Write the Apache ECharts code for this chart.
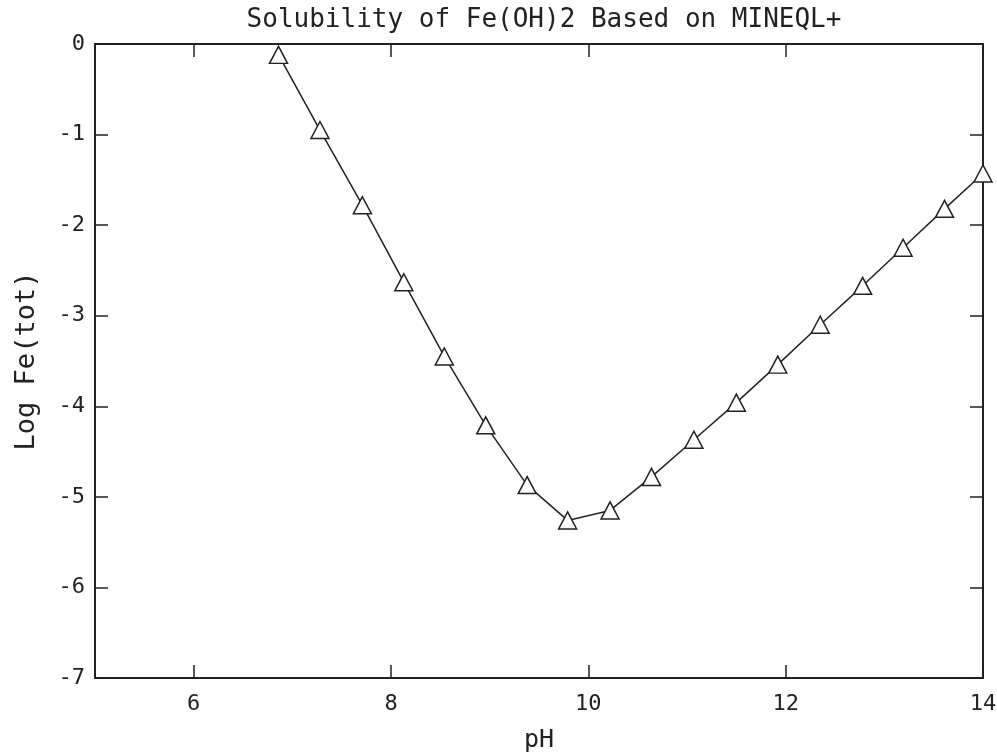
<!DOCTYPE html>
<html>
<head>
<meta charset="utf-8">
<script src="https://cdn.jsdelivr.net/npm/echarts@6/dist/echarts.min.js"></script>
<style>html,body{margin:0;padding:0;background:#fff}#c{width:997px;height:752px}</style>
</head>
<body>
<div id="c"></div>
<script>
const titleText = 'Solubility of Fe(OH)2 Based on MINEQL+';
const xName = 'pH';
const yName = 'Log Fe(tot)';
const xTickValues = [6, 8, 10, 12, 14];
const yTickValues = [-7, -6, -5, -4, -3, -2, -1, 0];
const pH = [6.86, 7.28, 7.71, 8.13, 8.54, 8.96, 9.38, 9.79, 10.22, 10.64, 11.07, 11.50, 11.92, 12.35, 12.78, 13.19, 13.61, 14.0];
const logFe = [-0.12, -0.95, -1.78, -2.63, -3.45, -4.21, -4.87, -5.26, -5.15, -4.78, -4.37, -3.96, -3.54, -3.10, -2.67, -2.25, -1.82, -1.43];

const FONT = 'DejaVu Sans Mono';
const chart = echarts.init(document.getElementById('c'));
const axisLine = {show: true, onZero: false, lineStyle: {color: '#222', width: 2}};
const xTick = {show: true, inside: true, length: 13, customValues: xTickValues, lineStyle: {color: '#222', width: 1.5}};
const yTick = {show: true, inside: true, length: 13, customValues: yTickValues, lineStyle: {color: '#222', width: 1.5}};
chart.setOption({
  backgroundColor: '#fff',
  animation: false,
  title: {
    text: titleText, left: 539, top: 2, textAlign: 'center',
    textStyle: {fontFamily: FONT, fontSize: 26, fontWeight: 'normal', color: '#222'}
  },
  grid: {left: 95, right: 14, top: 44, bottom: 74, containLabel: false, outerBoundsMode: 'none'},
  xAxis: [{
    type: 'value', min: 5, max: 14, position: 'bottom',
    name: xName, nameLocation: 'middle', nameGap: 50,
    nameTextStyle: {fontFamily: FONT, fontSize: 25, color: '#222'},
    axisLine: axisLine, axisTick: xTick, splitLine: {show: false},
    axisLabel: {fontFamily: FONT, fontSize: 22, color: '#222', margin: 15, customValues: xTickValues}
  }, {
    type: 'value', min: 5, max: 14, position: 'top',
    axisLine: axisLine, axisTick: xTick, splitLine: {show: false},
    axisLabel: {show: false}
  }],
  yAxis: [{
    type: 'value', min: -7, max: 0, position: 'left',
    name: yName, nameLocation: 'middle', nameGap: 55, nameRotate: 90,
    nameTextStyle: {fontFamily: FONT, fontSize: 27, color: '#222'},
    axisLine: axisLine, axisTick: yTick, splitLine: {show: false},
    axisLabel: {fontFamily: FONT, fontSize: 22, color: '#222', margin: 10, customValues: yTickValues}
  }, {
    type: 'value', min: -7, max: 0, position: 'right',
    axisLine: axisLine, axisTick: yTick, splitLine: {show: false},
    axisLabel: {show: false}
  }],
  series: [{
    type: 'line',
    data: pH.map((x, i) => [x, logFe[i]]),
    symbol: 'triangle', symbolSize: [18, 17],
    showAllSymbol: true,
    clip: false,
    lineStyle: {color: '#222', width: 1.5},
    itemStyle: {color: '#fff', borderColor: '#222', borderWidth: 1.5}
  }]
});
</script>
</body>
</html>
